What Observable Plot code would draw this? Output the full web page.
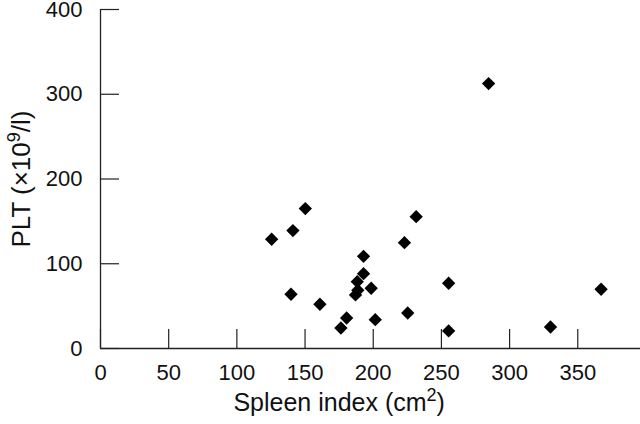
<!DOCTYPE html>
<html>
<head>
<meta charset="utf-8">
<script src="https://cdn.jsdelivr.net/npm/d3@7"></script>
<script src="https://cdn.jsdelivr.net/npm/@observablehq/plot@0.6"></script>
<style>
  html, body { margin: 0; padding: 0; background: #fff; }
  #chart { width: 640px; height: 424px; }
</style>
</head>
<body>
<div id="chart"></div>
<script>
// Spleen index (cm^2) for each patient
const spleenIndex = [284.6, 150.2, 141.1, 231.5, 222.9, 192.9, 192.9, 188.3, 188.7, 187.0, 198.5,
                     139.7, 160.9, 180.5, 176.3, 201.5, 225.3, 255.3, 255.3, 330.0, 367.1, 125.5];
// Platelet count (x10^9/l) for each patient
const plt = [312.6, 165.1, 139.1, 155.6, 124.9, 108.8, 88.3, 78.9, 68.7, 63.2, 71.1,
             64.0, 52.2, 36.0, 24.2, 34.0, 41.9, 77.0, 20.7, 25.4, 69.9, 128.9];

const xTicks = [0, 50, 100, 150, 200, 250, 300, 350];
const yTicks = [0, 100, 200, 300, 400];
const xTitle = "Spleen index (cm^2)";
const yTitle = "PLT (\u00d710^9/l)";

const points = spleenIndex.map((x, i) => ({x, y: plt[i]}));
const xTitleAt = (xTicks[0] + xTicks[xTicks.length - 1]) / 2;

const W = 640, H = 424, mL = 100, mR = 0, mT = 9, mB = 76;
const tickLen = 19;
const axisColor = "#222";
const font = "'Liberation Sans', Arial, Helvetica, sans-serif";

const chart = Plot.plot({
  width: W,
  height: H,
  marginLeft: mL,
  marginRight: mR,
  marginTop: mT,
  marginBottom: mB,
  style: {fontFamily: font, fontSize: "22px", color: "#111", background: "#fff"},
  x: {domain: [0, 396], ticks: xTicks},
  y: {domain: [0, 400], ticks: yTicks},
  marks: [
    Plot.axisX({ticks: xTicks, tickSize: 0, tickPadding: 16, fontSize: 22, label: null, fill: "#111"}),
    Plot.axisY({ticks: yTicks, tickSize: 0, tickPadding: 18, fontSize: 22, label: null, fill: "#111"}),
    // inward tick marks
    Plot.ruleX(xTicks, {insetTop: (H - mT - mB) - tickLen, stroke: axisColor, strokeWidth: 1.2}),
    Plot.ruleY(yTicks, {insetRight: (W - mL - mR) - tickLen, stroke: axisColor, strokeWidth: 1.2}),
    Plot.ruleY([0], {stroke: axisColor, strokeWidth: 1.3}),
    Plot.ruleX([0], {stroke: axisColor, strokeWidth: 1.3}),
    Plot.dot(points, {x: "x", y: "y", symbol: "diamond2", r: 6, fill: "#000", stroke: "none"}),
    Plot.text([xTitle], {x: () => xTitleAt, frameAnchor: "bottom", dy: 62, fontSize: 25, fill: "#111"}),
    Plot.text([yTitle], {frameAnchor: "left", textAnchor: "middle", rotate: -90, dx: -79, fontSize: 26, fill: "#111"})
  ]
});

// render superscripts "^d" as raised, smaller tspans
chart.querySelectorAll("text").forEach(t => {
  const s = t.textContent;
  const m = s.match(/^(.*)\^(\d)(.*)$/);
  if (!m) return;
  const ns = "http://www.w3.org/2000/svg";
  while (t.firstChild) t.removeChild(t.firstChild);
  const a = document.createElementNS(ns, "tspan"); a.textContent = m[1];
  const b = document.createElementNS(ns, "tspan"); b.textContent = m[2];
  b.setAttribute("font-size", "18"); b.setAttribute("dy", "-10");
  const c = document.createElementNS(ns, "tspan"); c.textContent = m[3];
  c.setAttribute("dy", "10");
  t.append(a, b, c);
});

document.getElementById("chart").appendChild(chart);
</script>
</body>
</html>
